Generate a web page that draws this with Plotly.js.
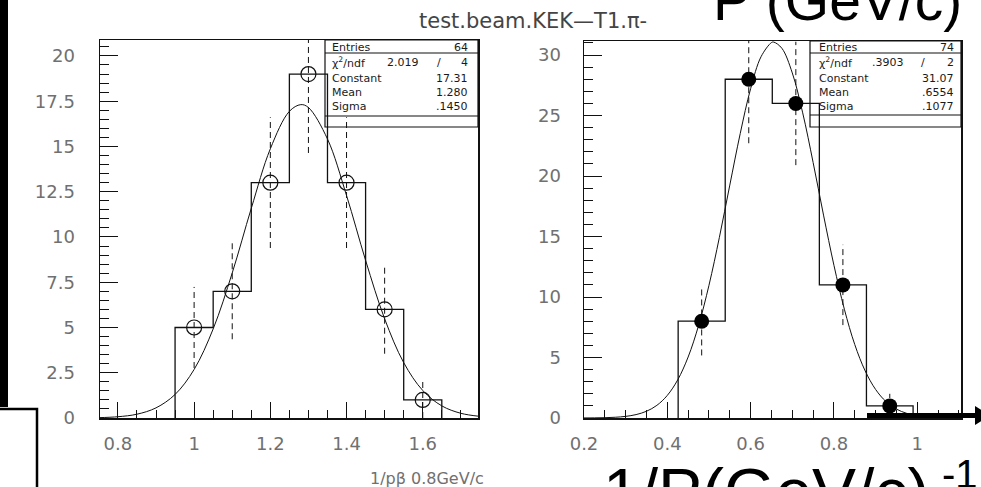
<!DOCTYPE html>
<html>
<head>
<meta charset="utf-8">
<script src="https://cdn.plot.ly/plotly-3.0.1.min.js"></script>
<style>html,body{margin:0;padding:0;background:#fff;}#chart{width:981px;height:487px;}</style>
</head>
<body>
<div id="chart"></div>
<script>
// ---------- data ----------
const leftEdges   = [0.95, 1.05, 1.15, 1.25, 1.35, 1.45, 1.55, 1.65];
const leftCounts  = [5, 7, 13, 19, 13, 6, 1];
const leftCenters = [1.0, 1.1, 1.2, 1.3, 1.4, 1.5, 1.6];
const leftErrors  = [2.24, 2.65, 3.61, 4.36, 3.61, 2.45, 1.0];
const leftFitX = [0.75,0.80,0.85,0.90,0.95,1.00,1.05,1.10,1.15,1.20,1.25,1.28,1.30,1.35,1.40,1.45,1.50,1.55,1.60,1.65,1.70,1.75];
const leftFitY = [0.02,0.07,0.21,0.56,1.30,2.68,4.92,8.01,11.58,14.87,16.94,17.31,17.15,15.41,12.29,8.71,5.48,3.06,1.52,0.67,0.26,0.09];

const rightEdges   = [0.426, 0.539, 0.652, 0.765, 0.878, 0.990];
const rightCounts  = [8, 28, 26, 11, 1];
const rightCenters = [0.4825, 0.5955, 0.7085, 0.8215, 0.934];
const rightErrors  = [2.83, 5.29, 5.10, 3.32, 1.0];
const rightFitX = [0.200,0.225,0.250,0.275,0.300,0.325,0.350,0.375,0.400,0.425,0.450,0.475,0.500,0.525,0.550,0.575,0.600,0.625,0.650,0.6554,0.675,0.700,0.725,0.750,0.775,0.800,0.825,0.850,0.875,0.900,0.925,0.950,0.975,1.000,1.025,1.050,1.075,1.100];
const rightFitY = [0.004,0.011,0.026,0.061,0.134,0.281,0.558,1.048,1.868,3.154,5.04,7.64,10.97,14.93,19.25,23.51,27.22,29.86,31.03,31.07,30.56,28.52,25.22,21.12,16.77,12.62,8.99,6.07,3.89,2.36,1.354,0.737,0.380,0.186,0.086,0.038,0.016,0.006];

const leftXTicks  = [0.8, 1, 1.2, 1.4, 1.6];
const leftXLabels = ['0.8', '1', '1.2', '1.4', '1.6'];
const leftYTicks  = [0, 2.5, 5, 7.5, 10, 12.5, 15, 17.5, 20];
const leftYLabels = ['0', '2.5', '5', '7.5', '10', '12.5', '15', '17.5', '20'];
const rightXTicks  = [0.2, 0.4, 0.6, 0.8, 1];
const rightXLabels = ['0.2', '0.4', '0.6', '0.8', '1'];
const rightYTicks  = [0, 5, 10, 15, 20, 25, 30];
const rightYLabels = ['0', '5', '10', '15', '20', '25', '30'];

const statNames   = ['Entries', 'χ<sup>2</sup>/ndf', 'Constant', 'Mean', 'Sigma'];
const leftStats   = ['64', '4', '17.31', '1.280', '.1450'];
const leftChi2    = '2.019';
const rightStats  = ['74', '2', '31.07', '.6554', '.1077'];
const rightChi2   = '.3903';

const titleText  = 'test.beam.KEK—T1.π-';
const leftXTitle = '1/pβ 0.8GeV/c';
const bigTopText = 'P (GeV/c)';
const bigBotText = '1/P(GeV/c)';
const bigBotSup  = '-1';

// ---------- helpers ----------
const W = 981, H = 487;
const fx = p => p / W;
const fy = p => 1 - p / H;

function stepXY(edges, counts) {
  const x = [edges[0]], y = [0];
  for (let i = 0; i < counts.length; i++) {
    x.push(edges[i], edges[i + 1]);
    y.push(counts[i], counts[i]);
  }
  x.push(edges[edges.length - 1]); y.push(0);
  return {x, y};
}
function errXY(centers, counts, errs) {
  const x = [], y = [];
  for (let i = 0; i < centers.length; i++) {
    x.push(centers[i], centers[i], null);
    y.push(counts[i] - errs[i], counts[i] + errs[i], null);
  }
  return {x, y};
}

const lh = stepXY(leftEdges, leftCounts);
const rh = stepXY(rightEdges, rightCounts);
const le = errXY(leftCenters, leftCounts, leftErrors);
const re = errXY(rightCenters, rightCounts, rightErrors);

const traces = [
  {x: lh.x, y: lh.y, xaxis: 'x', yaxis: 'y', mode: 'lines', line: {color: '#111', width: 1.3}, hoverinfo: 'skip'},
  {x: le.x, y: le.y, xaxis: 'x', yaxis: 'y', mode: 'lines', line: {color: '#111', width: 1, dash: '6px,4px'}, hoverinfo: 'skip'},
  {x: leftFitX, y: leftFitY, xaxis: 'x', yaxis: 'y', mode: 'lines', line: {color: '#111', width: 1, shape: 'spline'}, hoverinfo: 'skip'},
  {x: leftCenters, y: leftCounts, xaxis: 'x', yaxis: 'y', mode: 'markers', marker: {symbol: 'circle-open', size: 15, color: '#111', line: {width: 1.2}}},
  {x: rh.x, y: rh.y, xaxis: 'x2', yaxis: 'y2', mode: 'lines', line: {color: '#111', width: 1.3}, hoverinfo: 'skip'},
  {x: re.x, y: re.y, xaxis: 'x2', yaxis: 'y2', mode: 'lines', line: {color: '#111', width: 1, dash: '6px,4px'}, hoverinfo: 'skip'},
  {x: rightFitX, y: rightFitY, xaxis: 'x2', yaxis: 'y2', mode: 'lines', line: {color: '#111', width: 1, shape: 'spline'}, hoverinfo: 'skip'},
  {x: rightCenters, y: rightCounts, xaxis: 'x2', yaxis: 'y2', mode: 'markers', marker: {symbol: 'circle', size: 15, color: '#000'}}
];

const tickFont = {family: 'DejaVu Sans', size: 18, color: '#707070'};
function axisBase(extra) {
  return Object.assign({
    showline: true, linecolor: '#111', linewidth: 1.5, mirror: true,
    ticks: 'inside', tickcolor: '#111', tickwidth: 1,
    showgrid: false, zeroline: false, tickmode: 'array',
    tickfont: tickFont, fixedrange: true
  }, extra);
}

const layout = {
  width: W, height: H,
  margin: {l: 0, r: 0, t: 0, b: 0},
  paper_bgcolor: '#fff', plot_bgcolor: 'rgba(0,0,0,0)',
  showlegend: false,
  xaxis: axisBase({domain: [fx(100), fx(478)], range: [0.753, 1.745], anchor: 'y',
    tickvals: leftXTicks, ticktext: leftXLabels, ticklen: 16, ticklabelstandoff: 9,
    minor: {ticks: 'inside', ticklen: 8, tickcolor: '#111', tickmode: 'linear', tick0: 0, dtick: 0.05, showgrid: false}}),
  yaxis: axisBase({domain: [fy(418), fy(40)], range: [0, 20.88], anchor: 'x',
    tickvals: leftYTicks, ticktext: leftYLabels, ticklen: 18, ticklabelstandoff: 20,
    minor: {ticks: 'inside', ticklen: 9, tickcolor: '#111', tickmode: 'linear', tick0: 0, dtick: 0.5, showgrid: false}}),
  xaxis2: axisBase({domain: [fx(584), fx(961)], range: [0.2, 1.105], anchor: 'y2',
    tickvals: rightXTicks, ticktext: rightXLabels, ticklen: 16, ticklabelstandoff: 9,
    minor: {ticks: 'inside', ticklen: 8, tickcolor: '#111', tickmode: 'linear', tick0: 0, dtick: 0.05, showgrid: false}}),
  yaxis2: axisBase({domain: [fy(418), fy(41)], range: [0, 31.16], anchor: 'x2',
    tickvals: rightYTicks, ticktext: rightYLabels, ticklen: 18, ticklabelstandoff: 18,
    minor: {ticks: 'inside', ticklen: 9, tickcolor: '#111', tickmode: 'linear', tick0: 0, dtick: 1, showgrid: false}}),
  shapes: [],
  annotations: []
};

// left black bar and bracket line
layout.shapes.push({type: 'rect', xref: 'paper', yref: 'paper', x0: fx(0), x1: fx(8), y0: fy(407), y1: fy(0), fillcolor: '#000', line: {width: 0}, layer: 'above'});
layout.shapes.push({type: 'path', xref: 'paper', yref: 'paper',
  path: `M ${fx(0)},${fy(409)} L ${fx(37)},${fy(409)} L ${fx(37)},${fy(487)}`, line: {color: '#000', width: 2.5}, layer: 'above'});
// thick arrow bottom right
layout.shapes.push({type: 'line', xref: 'paper', yref: 'paper', x0: fx(867), x1: fx(976), y0: fy(415.5), y1: fy(415.5), line: {color: '#000', width: 5}, layer: 'above'});
layout.shapes.push({type: 'path', xref: 'paper', yref: 'paper',
  path: `M ${fx(975)},${fy(406)} L ${fx(990)},${fy(415.5)} L ${fx(975)},${fy(425)} Z`, fillcolor: '#000', line: {width: 0}, layer: 'above'});

// stats boxes
function statBox(x0, x1, y0, y1, ySep1, ySep2, names, vals, chi2, labX, valX, chiX, slashX, rows) {
  const ln = {color: '#111', width: 1.2};
  layout.shapes.push({type: 'rect', xref: 'paper', yref: 'paper', x0: fx(x0), x1: fx(x1), y0: fy(y1), y1: fy(y0), line: ln, layer: 'above'});
  layout.shapes.push({type: 'line', xref: 'paper', yref: 'paper', x0: fx(x0), x1: fx(x1), y0: fy(ySep1), y1: fy(ySep1), line: ln, layer: 'above'});
  layout.shapes.push({type: 'line', xref: 'paper', yref: 'paper', x0: fx(x0), x1: fx(x1), y0: fy(ySep2), y1: fy(ySep2), line: ln, layer: 'above'});
  const f = {family: 'DejaVu Sans', size: 11, color: '#1a1a1a'};
  for (let i = 0; i < names.length; i++) {
    layout.annotations.push({xref: 'paper', yref: 'paper', x: fx(labX), y: fy(rows[i]), xanchor: 'left', yanchor: 'middle', text: names[i], showarrow: false, font: f});
    layout.annotations.push({xref: 'paper', yref: 'paper', x: fx(valX), y: fy(rows[i]), xanchor: 'right', yanchor: 'middle', text: vals[i], showarrow: false, font: f});
  }
  layout.annotations.push({xref: 'paper', yref: 'paper', x: fx(chiX), y: fy(rows[1]), xanchor: 'center', yanchor: 'middle', text: chi2, showarrow: false, font: f});
  layout.annotations.push({xref: 'paper', yref: 'paper', x: fx(slashX), y: fy(rows[1]), xanchor: 'center', yanchor: 'middle', text: '/', showarrow: false, font: f});
}
statBox(325, 478, 40, 127, 53, 116, statNames, leftStats, leftChi2, 330, 470, 403, 439, [47, 63, 78, 92, 106]);
statBox(810, 961, 41, 127, 53, 115, statNames, rightStats, rightChi2, 817, 956, 888, 923, [47, 63, 78, 92, 106]);

// texts
layout.annotations.push({xref: 'paper', yref: 'paper', x: fx(533), y: fy(21), xanchor: 'center', yanchor: 'middle', text: titleText, showarrow: false,
  font: {family: 'DejaVu Sans', size: 21, color: '#444'}});
layout.annotations.push({xref: 'paper', yref: 'paper', x: fx(486), y: fy(478), xanchor: 'right', yanchor: 'middle', text: leftXTitle, showarrow: false,
  font: {family: 'DejaVu Sans', size: 16, color: '#707070'}});
layout.annotations.push({xref: 'paper', yref: 'paper', x: fx(711), y: fy(0), xanchor: 'left', yanchor: 'middle', text: bigTopText, showarrow: false,
  font: {family: 'Liberation Sans', size: 57, color: '#000'}});
layout.annotations.push({xref: 'paper', yref: 'paper', x: fx(601), y: fy(492), xanchor: 'left', yanchor: 'middle', text: bigBotText, showarrow: false,
  font: {family: 'Liberation Sans', size: 66, color: '#000'}});
layout.annotations.push({xref: 'paper', yref: 'paper', x: fx(940), y: fy(474), xanchor: 'left', yanchor: 'middle', text: bigBotSup, showarrow: false,
  font: {family: 'Liberation Sans', size: 40, color: '#000'}});

Plotly.newPlot('chart', traces, layout, {staticPlot: true, displayModeBar: false});
</script>
</body>
</html>
